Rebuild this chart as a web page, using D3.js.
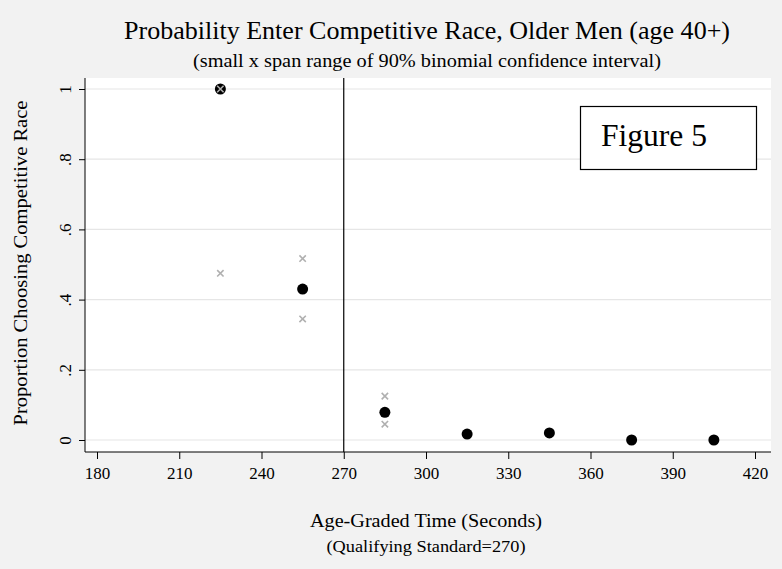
<!DOCTYPE html>
<html><head><meta charset="utf-8">
<script src="https://cdn.jsdelivr.net/npm/d3@7/dist/d3.min.js"></script>
<style>body{margin:0;background:#f2f2f2}svg{display:block}</style>
</head><body><div id="chart"></div>
<script>
const times = [225, 255, 285, 315, 345, 375, 405];
const proportion = [1.0, 0.43, 0.079, 0.017, 0.02, 0.0, 0.0];
const ciUpper = [1.0, 0.517, 0.125, null, null, null, null];
const ciLower = [0.475, 0.345, 0.045, null, null, null, null];
const xTicks = [180, 210, 240, 270, 300, 330, 360, 390, 420];
const yTicks = [0, 0.2, 0.4, 0.6, 0.8, 1];
const yTickLabels = ["0", ".2", ".4", ".6", ".8", "1"];
const qualifyingStandard = 270;

const W = 782, H = 569;
const font = "'Liberation Serif','Times New Roman',serif";
const svg = d3.select("#chart").append("svg").attr("width", W).attr("height", H);
svg.append("rect").attr("width", W).attr("height", H).attr("fill", "#f2f2f2");

const plot = {left: 85, right: 771, top: 78, bottom: 452};
const x = d3.scaleLinear().domain([180, 420]).range([97, 755]);
const y = d3.scaleLinear().domain([0, 1]).range([440, 89]);

svg.append("rect").attr("x", plot.left).attr("y", plot.top)
  .attr("width", plot.right - plot.left).attr("height", plot.bottom - plot.top).attr("fill", "#fff");

// gridlines
svg.append("g").selectAll("line").data(yTicks).join("line")
  .attr("x1", plot.left).attr("x2", plot.right)
  .attr("y1", d => y(d)).attr("y2", d => y(d))
  .attr("stroke", "#e6e6e6").attr("stroke-width", 1.2);

// y axis
const yAxis = d3.axisLeft(y).tickValues(yTicks).tickSize(6).tickPadding(10)
  .tickFormat((d, i) => yTickLabels[i]);
const gy = svg.append("g").attr("transform", `translate(${plot.left},0)`).call(yAxis);
gy.select(".domain").attr("d", `M0,${plot.top}V${plot.bottom}`).attr("stroke", "#000");
gy.selectAll(".tick line").attr("stroke", "#000");
gy.selectAll(".tick text").attr("font-family", font).attr("font-size", 17).attr("fill", "#000")
  .attr("text-anchor", "middle").attr("transform", "rotate(-90)")
  .attr("x", 0).attr("y", -20).attr("dy", "0.35em");

// x axis
const xAxis = d3.axisBottom(x).tickValues(xTicks).tickSize(7).tickPadding(8).tickFormat(d3.format("d"));
const gx = svg.append("g").attr("transform", `translate(0,${plot.bottom})`).call(xAxis);
gx.select(".domain").attr("d", `M${plot.left},0H${plot.right}`).attr("stroke", "#000");
gx.selectAll(".tick line").attr("stroke", "#000");
gx.selectAll(".tick text").attr("font-family", font).attr("font-size", 17).attr("fill", "#000");

// qualifying standard line
svg.append("line").attr("x1", x(qualifyingStandard)).attr("x2", x(qualifyingStandard))
  .attr("y1", plot.top).attr("y2", plot.bottom).attr("stroke", "#000").attr("stroke-width", 1.2);

// points
const pts = times.map((t, i) => ({t, p: proportion[i], u: ciUpper[i], l: ciLower[i]}));
svg.append("g").selectAll("circle").data(pts).join("circle")
  .attr("cx", d => x(d.t)).attr("cy", d => y(d.p)).attr("r", 5.5).attr("fill", "#000");

// CI markers (x)
const ci = [];
pts.forEach(d => { if (d.u != null) ci.push({t: d.t, v: d.u}); if (d.l != null) ci.push({t: d.t, v: d.l}); });
const s = 3.2;
svg.append("g").selectAll("path").data(ci).join("path")
  .attr("d", d => { const cx = x(d.t), cy = y(d.v);
    return `M${cx-s},${cy-s}L${cx+s},${cy+s}M${cx-s},${cy+s}L${cx+s},${cy-s}`; })
  .attr("stroke", "#b0b0b0").attr("stroke-width", 1.6).attr("fill", "none");

// Figure 5 box
svg.append("rect").attr("x", 580.5).attr("y", 106.5).attr("width", 176).attr("height", 63)
  .attr("fill", "#fff").attr("stroke", "#000").attr("stroke-width", 1.2);
svg.append("text").attr("x", 601).attr("y", 146).attr("font-family", font).attr("font-size", 31)
  .attr("textLength", 106).attr("lengthAdjust", "spacingAndGlyphs").text("Figure 5");

// titles
function label(xp, yp, size, len, txt, rot) {
  const t = svg.append("text").attr("text-anchor", "middle").attr("font-family", font)
    .attr("font-size", size).attr("textLength", len).attr("lengthAdjust", "spacingAndGlyphs").text(txt);
  if (rot) t.attr("transform", `translate(${xp},${yp}) rotate(-90)`);
  else t.attr("x", xp).attr("y", yp);
  return t;
}
label(427, 39, 25.5, 606, "Probability Enter Competitive Race, Older Men (age 40+)");
label(427, 67, 18.5, 468, "(small x span range of 90% binomial confidence interval)");
label(27, 263, 19, 325, "Proportion Choosing Competitive Race", true);
label(426, 527, 19.5, 232, "Age-Graded Time (Seconds)");
label(426, 552, 17, 199, "(Qualifying Standard=270)");
</script></body></html>
